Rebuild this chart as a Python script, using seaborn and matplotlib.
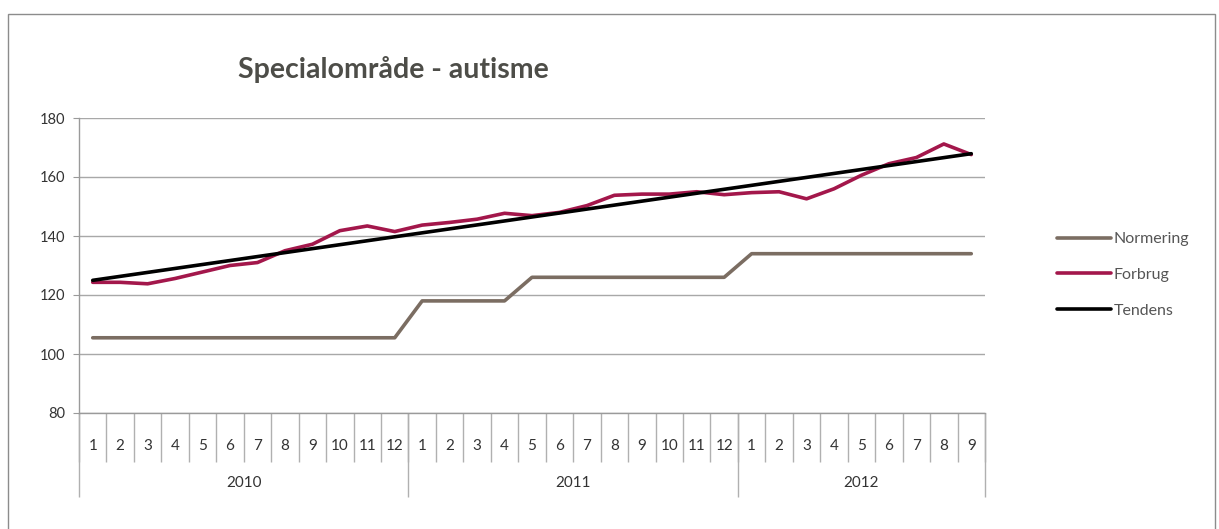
import numpy as np
import pandas as pd
import matplotlib.pyplot as plt
import seaborn as sns
from matplotlib.patches import Rectangle

# data
years = ['2010', '2011', '2012']
months_per_year = [12, 12, 9]
normering = [105.5] * 12 + [118] * 4 + [126] * 8 + [134] * 9
forbrug = [124.3, 124.3, 123.8, 125.6, 127.8, 130.0, 131.0, 135.0, 137.2, 141.8, 143.4, 141.5,
           143.7, 144.6, 145.7, 147.7, 146.9, 148.0, 150.3, 153.8, 154.2, 154.2, 155.0, 154.0,
           154.7, 155.0, 152.6, 156.0, 160.6, 164.5, 166.6, 171.2, 167.6]
series_names = ['Normering', 'Forbrug', 'Tendens']
colors = {'Normering': '#7b6d62', 'Forbrug': '#a3174b', 'Tendens': '#000000'}

month_labels = [str(m) for n in months_per_year for m in range(1, n + 1)]
idx = np.arange(len(month_labels))

df = pd.DataFrame({
    'idx': np.concatenate([idx, idx]),
    'value': normering + forbrug,
    'serie': ['Normering'] * len(idx) + ['Forbrug'] * len(idx)})

sns.set_style('white')
plt.rcParams['font.family'] = ['Lato', 'DejaVu Sans']

W, H = 1219, 529
fig = plt.figure(figsize=(W / 100, H / 100), dpi=100)
ax = fig.add_axes([79 / W, 1 - 413 / H, (985 - 79) / W, (413 - 118) / H])

sns.lineplot(data=df, x='idx', y='value', hue='serie', palette=colors,
             linewidth=2.6, ax=ax, legend=False)
sns.regplot(x=idx, y=np.array(forbrug, dtype=float), scatter=False, ci=None,
            color=colors['Tendens'], line_kws={'linewidth': 2.6}, ax=ax)

ax.set_xlim(-0.5, len(idx) - 0.5)
ax.set_ylim(80, 180)
ax.set_yticks(range(80, 181, 20))
ax.set_xlabel('')
ax.set_ylabel('')
ax.yaxis.grid(True, color='#a8a8a8', linewidth=1)
ax.set_axisbelow(True)
for s in ['top', 'right']:
    ax.spines[s].set_visible(False)
for s in ['left', 'bottom']:
    ax.spines[s].set_color('#9a9a9a')
    ax.spines[s].set_linewidth(1)

ax.tick_params(axis='y', length=4, color='#9a9a9a', labelsize=10.5,
               labelcolor='#333333', pad=6, left=True)
ax.set_xticks(idx)
ax.set_xticklabels(month_labels)
ax.tick_params(axis='x', which='major', length=0, pad=19, labelsize=11, labelcolor='#333333')
ax.set_xticks(np.arange(-0.5, len(idx), 1), minor=True)
ax.tick_params(axis='x', which='minor', length=35, color='#b0b0b0', width=1, bottom=True)

# year separators and labels
bounds = np.concatenate([[0], np.cumsum(months_per_year)]) - 0.5
trans = ax.get_xaxis_transform()
ax.vlines(bounds, 0, -84 / 295, transform=trans, colors='#b0b0b0', linewidth=1, clip_on=False)
for y, a, b in zip(years, bounds[:-1], bounds[1:]):
    ax.text((a + b) / 2, -70 / 295, y, transform=trans, ha='center', va='center',
            fontsize=11, color='#333333')

fig.text(238 / W, 1 - 70 / H, 'Specialområde - autisme', fontsize=20.5, fontweight='bold',
         color='#4d4d48', ha='left', va='center')

fig.legend(handles=ax.lines[:3], labels=series_names, loc='center left',
           bbox_to_anchor=(1057 / W, 1 - 275 / H), frameon=False, fontsize=11.5,
           labelcolor='#555555', handlelength=3.4, handletextpad=0.15,
           labelspacing=1.35, borderpad=0, borderaxespad=0)

fig.add_artist(Rectangle((8 / W, -0.01), (1215 - 8) / W, 1.01 - 14 / H,
                         transform=fig.transFigure, fill=False,
                         edgecolor='#8c8c8c', linewidth=1))

fig.savefig('out.png', dpi=100)
